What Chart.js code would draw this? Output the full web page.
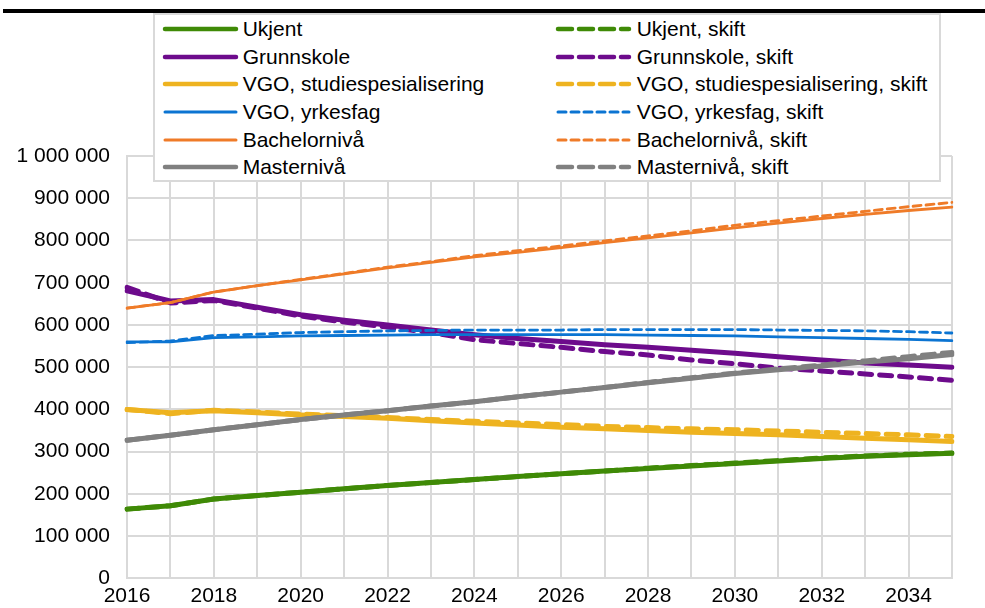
<!DOCTYPE html>
<html>
<head>
<meta charset="utf-8">
<script src="https://cdn.jsdelivr.net/npm/chart.js@4/dist/chart.umd.min.js"></script>
<style>
  body { margin: 0; background: #fff; font-family: "Liberation Sans", Arial, sans-serif; }
  #wrap { position: relative; width: 985px; height: 608px; overflow: hidden; }
  #topRule { position: absolute; left: 3px; top: 9px; width: 982px; height: 4px; background: #000; }
  #legend { position: absolute; left: 153px; top: 13px; width: 784px; height: 165px;
            border: 2px solid #d9d9d9; background: #fff; }
  .leg-item { position: absolute; height: 24px; font-size: 21px; line-height: 24px; color: #000; white-space: nowrap; }
  .leg-item svg { position: absolute; top: 0; }
  .leg-item span { position: absolute; top: 0; }
  canvas { position: absolute; left: 0; top: 0; }
</style>
</head>
<body>
<div id="wrap">
  <canvas id="chart" width="985" height="608"></canvas>
  <div id="topRule"></div>
  <div id="legend"></div>
</div>
<script>
const years = ['2016', '2017', '2018', '2019', '2020', '2021', '2022', '2023', '2024', '2025',
               '2026', '2027', '2028', '2029', '2030', '2031', '2032', '2033', '2034', '2035'];

const ukjent = [164000, 172000, 188000, 196000, 204000, 212000, 220000, 227000, 234000, 241000,
                248000, 254000, 260000, 266000, 272000, 278000, 284000, 289000, 293000, 296000];
const ukjentSkift = [164000, 172000, 188000, 196000, 204000, 212000, 220000, 227000, 234000, 241000,
                     248000, 254000, 261000, 267000, 273000, 279000, 285000, 290000, 294000, 297000];

const grunnskole = [681000, 657000, 660000, 642000, 624000, 611000, 600000, 588000, 577000, 568000,
                    561000, 553000, 547000, 540000, 533000, 525000, 517000, 510000, 505000, 500000];
const grunnskoleSkift = [689000, 652000, 658000, 640000, 621000, 607000, 595000, 582000, 565000, 556000,
                         547000, 537000, 529000, 517000, 508000, 498000, 491000, 484000, 477000, 469000];

const vgoStudie = [400000, 392000, 397000, 392000, 387000, 383000, 379000, 373000, 368000, 363000,
                   358000, 354000, 350000, 346000, 343000, 340000, 336000, 332000, 328000, 324000];
const vgoStudieSkift = [400000, 390000, 398000, 394000, 389000, 385000, 381000, 376000, 372000, 368000,
                        364000, 360000, 357000, 354000, 352000, 349000, 346000, 343000, 340000, 336000];

const vgoYrkes = [560000, 560000, 570000, 572000, 574000, 575000, 576000, 577000, 577000, 577000,
                  577000, 577000, 576000, 575000, 574000, 572000, 570000, 568000, 566000, 563000];
const vgoYrkesSkift = [558000, 562000, 575000, 578000, 582000, 584000, 586000, 587000, 588000, 588000,
                       588000, 589000, 589000, 589000, 589000, 588000, 587000, 586000, 584000, 581000];

const bachelor = [640000, 653000, 678000, 693000, 707000, 721000, 735000, 748000, 761000, 772000,
                  783000, 795000, 806000, 818000, 830000, 841000, 852000, 862000, 871000, 879000];
const bachelorSkift = [640000, 653000, 678000, 693000, 708000, 722000, 737000, 750000, 764000, 776000,
                       787000, 799000, 811000, 823000, 836000, 847000, 858000, 869000, 880000, 890000];

const master = [327000, 339000, 352000, 364000, 376000, 387000, 397000, 408000, 418000, 430000,
                441000, 452000, 463000, 474000, 485000, 494000, 503000, 512000, 520000, 530000];
const masterSkift = [327000, 339000, 352000, 364000, 376000, 387000, 397000, 408000, 418000, 430000,
                     441000, 452000, 464000, 475000, 486000, 496000, 505000, 515000, 525000, 535000];

const yTicks = [0, 100000, 200000, 300000, 400000, 500000, 600000, 700000, 800000, 900000, 1000000];

// name, colour, values, thick line?, dashed?
const series = [
    ['Ukjent', '#3f8a06', ukjent, true, false],
    ['Ukjent, skift', '#3f8a06', ukjentSkift, true, true],
    ['Grunnskole', '#6d0b8c', grunnskole, true, false],
    ['Grunnskole, skift', '#6d0b8c', grunnskoleSkift, true, true],
    ['VGO, studiespesialisering', '#eeb320', vgoStudie, true, false],
    ['VGO, studiespesialisering, skift', '#eeb320', vgoStudieSkift, true, true],
    ['VGO, yrkesfag', '#0b74d2', vgoYrkes, false, false],
    ['VGO, yrkesfag, skift', '#0b74d2', vgoYrkesSkift, false, true],
    ['Bachelornivå', '#ef7b28', bachelor, false, false],
    ['Bachelornivå, skift', '#ef7b28', bachelorSkift, false, true],
    ['Masternivå', '#808080', master, true, false],
    ['Masternivå, skift', '#808080', masterSkift, true, true]
];

function fmt(v) {
    return String(v).replace(/\B(?=(\d{3})+(?!\d))/g, ' ');
}

const datasets = series.map((s, i) => ({
    label: s[0],
    data: s[2],
    borderColor: s[1],
    backgroundColor: s[1],
    borderWidth: s[3] ? 5 : 2.8,
    borderDash: s[4] ? (s[3] ? [12, 8] : [8, 5]) : [],
    borderCapStyle: 'round',
    borderJoinStyle: 'round',
    pointRadius: 0,
    tension: 0,
    fill: false,
    order: series.length - i
}));

// Legend: solids on the left, "skift" on the right
const legend = document.getElementById('legend');
const rowY = [29, 56.7, 84.3, 112, 139.5, 167];
series.forEach((s, i) => {
    const row = Math.floor(i / 2);
    const col = i % 2;
    const item = document.createElement('div');
    item.className = 'leg-item';
    const x0 = col === 0 ? 160 : 553;
    item.style.left = (x0 - 155) + 'px';
    item.style.top = (rowY[row] - 12 - 15) + 'px';
    const w = s[3] ? 4.5 : 3;
    const dash = s[4] ? (s[3] ? '14 7' : '8 5') : 'none';
    item.innerHTML =
        `<svg width="82" height="24"><line x1="5" y1="12" x2="76" y2="12" stroke="${s[1]}" stroke-width="${w}" stroke-linecap="round" stroke-dasharray="${dash}"/></svg>` +
        `<span style="left:${col === 0 ? 82.7 : 83.7}px">${s[0]}</span>`;
    legend.appendChild(item);
});

const ctx = document.getElementById('chart').getContext('2d');
new Chart(ctx, {
    type: 'line',
    data: { labels: years, datasets: datasets },
    options: {
        responsive: false,
        animation: false,
        layout: { padding: { top: 156, right: 33, left: 0, bottom: 0 } },
        plugins: { legend: { display: false }, tooltip: { enabled: false } },
        scales: {
            x: {
                offset: false,
                grid: { color: '#d9d9d9', lineWidth: 2, drawTicks: false },
                border: { color: '#d9d9d9', width: 2 },
                ticks: {
                    autoSkip: false,
                    maxRotation: 0,
                    padding: 5,
                    color: '#000',
                    font: { family: 'Liberation Sans', size: 21 },
                    callback: (v, i) => (i % 2 === 0 ? years[i] : '')
                },
                afterFit: scale => { scale.height = 26; }
            },
            y: {
                min: 0,
                max: 1000000,
                afterBuildTicks: scale => { scale.ticks = yTicks.map(v => ({ value: v })); },
                grid: { color: '#d9d9d9', lineWidth: 2, drawTicks: false },
                border: { color: '#d9d9d9', width: 2 },
                ticks: {
                    padding: 17,
                    color: '#000',
                    font: { family: 'Liberation Sans', size: 21 },
                    callback: v => fmt(v)
                },
                afterFit: scale => { scale.width = 127; }
            }
        }
    }
});
</script>
</body>
</html>
